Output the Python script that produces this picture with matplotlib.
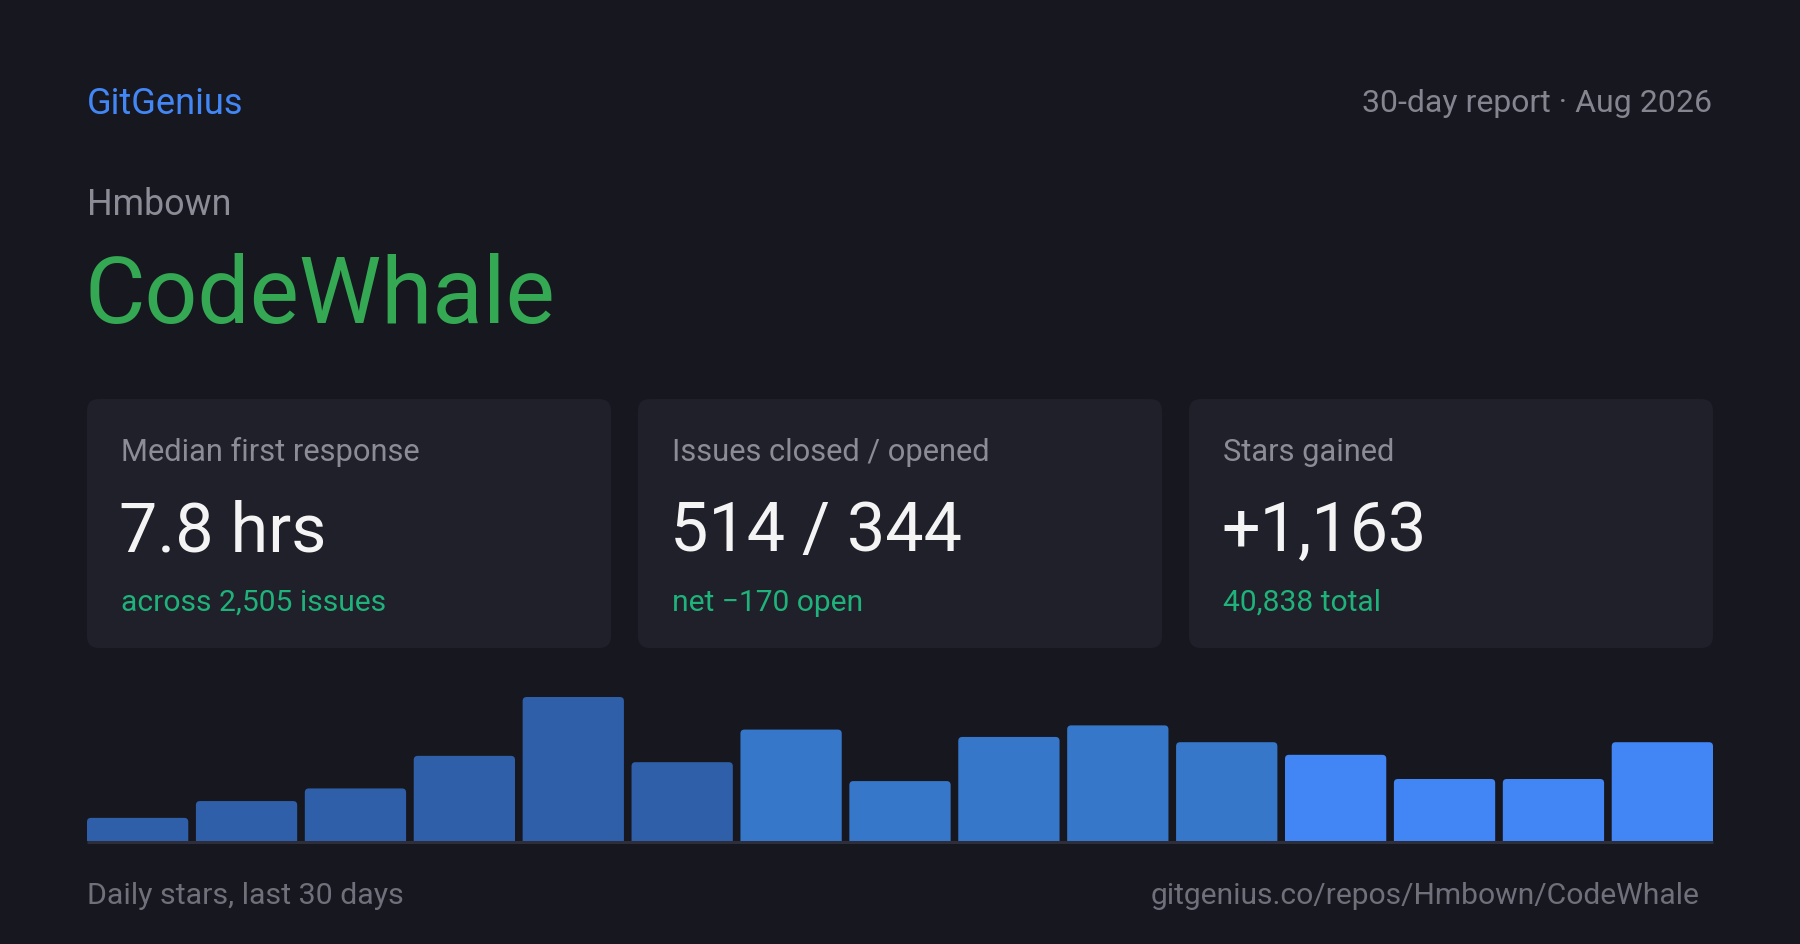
import matplotlib
matplotlib.use("Agg")
import matplotlib.pyplot as plt
from matplotlib.patches import FancyBboxPatch

plt.rcParams["font.family"] = ["Roboto", "DejaVu Sans"]

# data
owner = "Hmbown"
repo = "CodeWhale"
card_labels = ["Median first response", "Issues closed / opened", "Stars gained"]
card_values = ["7.8 hrs", "514 / 344", "+1,163"]
card_notes = ["across 2,505 issues", "net \u2212170 open", "40,838 total"]
daily_stars = [22, 38, 50, 81, 137, 75, 106, 57, 99, 110, 94, 82, 59, 59, 94]
bar_colors = ["#2f5fa9"] * 6 + ["#3677c9"] * 5 + ["#4285f4"] * 4

BG = "#16171f"
CARD = "#1f2029"
W, H = 1800, 945


def pt(cap_px):
    # cap height in px -> font size in points (Roboto cap height ~0.711 em, dpi 100)
    return cap_px / 0.711 * 72 / 100


fig = plt.figure(figsize=(18, 9.45), dpi=100, facecolor=BG)
ax = fig.add_axes([0, 0, 1, 1])
ax.set_xlim(0, W)
ax.set_ylim(H, 0)
ax.axis("off")
ax.set_facecolor(BG)

# header
ax.text(87, 114, "GitGenius", color="#4287f5", fontsize=pt(25.8), va="baseline")
ax.text(1712, 112, "30-day report \u00b7 Aug 2026", color="#84858f",
        fontsize=pt(22.8), va="baseline", ha="right")
ax.text(87, 215, owner, color="#8b8c96", fontsize=pt(25.5), va="baseline")
ax.text(84, 323, repo, color="#34a853", fontsize=pt(66), va="baseline")

# stat cards
card_x = [87, 638, 1189]
for x0, lab, val, note in zip(card_x, card_labels, card_values, card_notes):
    ax.add_patch(FancyBboxPatch((x0, 400), 524, 249,
                                boxstyle="round,pad=0,rounding_size=12",
                                facecolor=CARD, edgecolor="none"))
    ax.text(x0 + 34, 461, lab, color="#8b8c96", fontsize=pt(22), va="baseline")
    ax.text(x0 + 32, 551, val, color="#f4f4f5", fontsize=pt(48.5), va="baseline")
    ax.text(x0 + 34, 611, note, color="#1fb27a", fontsize=pt(21.3), va="baseline")

# baseline under bars
ax.plot([87, 1713], [843, 843], color="#2d2e3a", lw=2.2, solid_capstyle="butt")

# footer
ax.text(87, 904, "Daily stars, last 30 days", color="#6f707a",
        fontsize=pt(21.6), va="baseline")
ax.text(1699, 904, f"gitgenius.co/repos/{owner}/{repo}", color="#6f707a",
        fontsize=pt(21.3), va="baseline", ha="right")

# bar chart
bh = 150
bax = fig.add_axes([87 / W, (H - 842) / H, 1626 / W, bh / H])
bax.set_facecolor("none")
n = len(daily_stars)
bw = 0.93
bars = bax.bar(range(n), daily_stars, width=bw, color=bar_colors, linewidth=0)
bax.set_xlim(-bw / 2, n - 1 + bw / 2)
ytop = max(daily_stars) * bh / 144
bax.set_ylim(0, ytop)
bax.axis("off")

# rounded tops: radius ~4 px
px_x = 1626 / (n - 1 + bw)
px_y = bh / ytop
r = 4 / px_x
ry = 4 / px_y
for rect in bars:
    rect.set_visible(False)
    bax.add_patch(FancyBboxPatch((rect.get_x(), -ry), rect.get_width(),
                                 rect.get_height() + ry,
                                 boxstyle=f"round,pad=0,rounding_size={r}",
                                 mutation_aspect=ry / r,
                                 facecolor=rect.get_facecolor(), edgecolor="none"))

fig.savefig("out.png", dpi=100, facecolor=BG)
